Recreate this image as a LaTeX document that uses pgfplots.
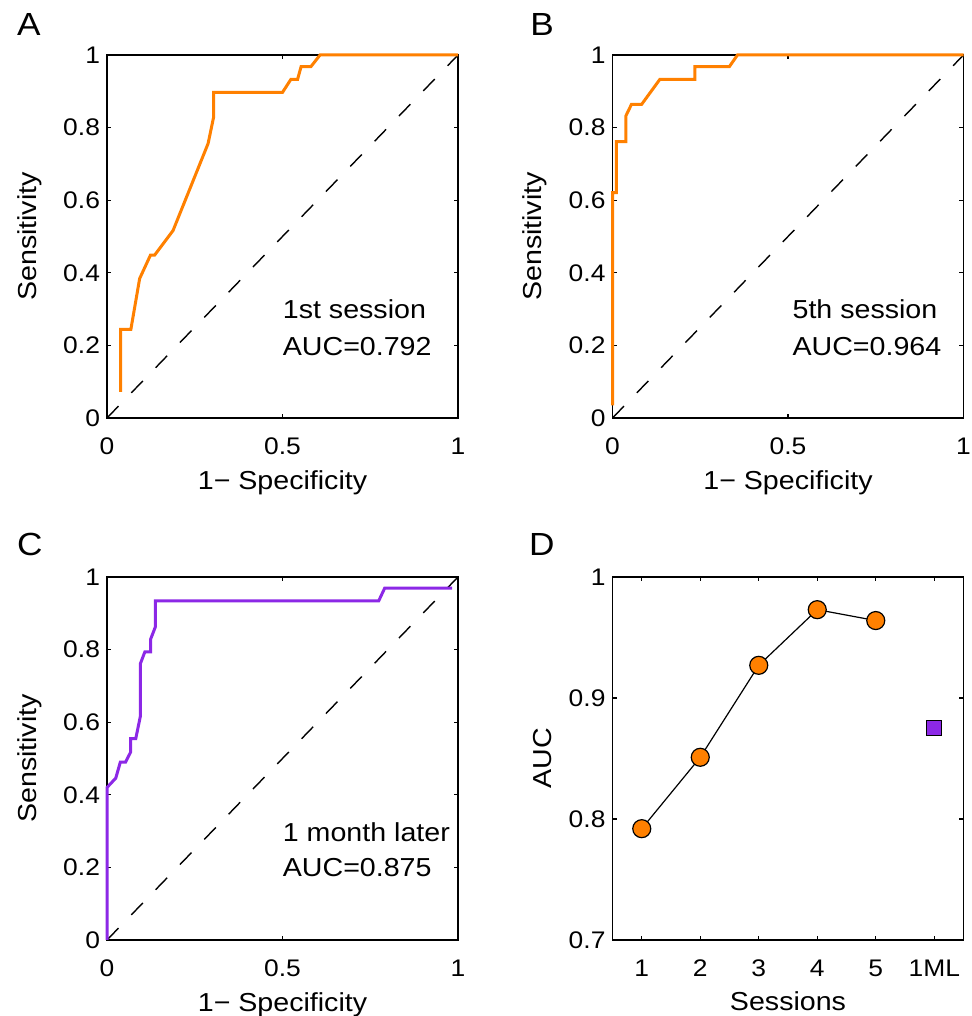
\documentclass[border=0pt]{standalone}
\usepackage{fontspec}
\setmainfont{Liberation Sans}[FakeStretch=1.1]
\usepackage{pgfplots}
\pgfplotsset{compat=1.18}
\definecolor{roco}{RGB}{255,128,0}
\definecolor{rocp}{RGB}{140,40,230}

\pgfplotsset{
  panel/.style={
    scale only axis, width=175.5pt, height=181.5pt, anchor=south west,
    clip=false,
    font=\fontsize{13}{15}\selectfont,
    /pgf/number format/assume math mode=true,
    tick label style={font=\fontsize{12}{14}\selectfont},
    xticklabel style={yshift=-6.5pt},
    tick align=inside, major tick length=2.2pt,
    axis line style={line width=0.6pt},
    every tick/.style={black, line width=0.6pt},
    xlabel style={at={(axis description cs:0.5,-0.196)}, anchor=base},
    ylabel style={anchor=base},
  },
  roc/.style={
    panel,
    xmin=0, xmax=1, ymin=0, ymax=1,
    xtick={0,0.5,1}, xticklabels={0,0.5,1},
    ytick={0,0.2,0.4,0.6,0.8,1}, yticklabels={0,0.2,0.4,0.6,0.8,1},
    xlabel={1− Specificity}, ylabel={Sensitivity},
    ylabel style={at={(axis description cs:-0.202,0.5)}},
  },
}
\tikzset{
  chance/.style={black, line width=0.7pt, dash pattern=on 8.25pt off 9.25pt},
  letter/.style={anchor=base west, inner sep=0pt, font=\fontsize{16}{18}\selectfont},
  note/.style={anchor=base west, inner sep=0pt},
}

\begin{document}
\begin{tikzpicture}
\useasboundingbox (0,0) rectangle (486pt,508pt);

% A: first session
\begin{axis}[roc, at={(53.5pt,299pt)}]
\addplot[chance] coordinates {(0,0) (1,1)};
\addplot[roco, line width=1.5pt] coordinates {
  (0.039,0.072) (0.039,0.244) (0.068,0.244) (0.093,0.384) (0.124,0.449)
  (0.136,0.449) (0.188,0.516) (0.288,0.756) (0.304,0.830) (0.304,0.897)
  (0.500,0.897) (0.524,0.933) (0.543,0.933) (0.553,0.968) (0.581,0.968)
  (0.607,1) (1,1)};
\node[note] at (axis cs:0.5,0.274) {1st session};
\node[note] at (axis cs:0.5,0.173) {AUC=0.792};
\node[letter] at (axis description cs:-0.257,1.055) {A};
\end{axis}

% B: fifth session
\begin{axis}[roc, at={(306.25pt,299pt)}]
\addplot[chance] coordinates {(0,0) (1,1)};
\addplot[roco, line width=1.5pt] coordinates {
  (0,0.035) (0,0.621) (0.011,0.621) (0.011,0.761) (0.038,0.761) (0.038,0.832)
  (0.054,0.864) (0.083,0.864) (0.135,0.933) (0.235,0.933) (0.235,0.968)
  (0.333,0.968) (0.356,1) (1,1)};
\node[note] at (axis cs:0.512,0.274) {5th session};
\node[note] at (axis cs:0.512,0.173) {AUC=0.964};
\node[letter] at (axis description cs:-0.235,1.055) {B};
\end{axis}

% C: one month later
\begin{axis}[roc, at={(53.5pt,38pt)}]
\addplot[chance] coordinates {(0,0) (1,1)};
\addplot[rocp, line width=1.5pt] coordinates {
  (0,0) (0,0.42) (0.025,0.446) (0.038,0.490) (0.053,0.490) (0.067,0.517)
  (0.067,0.555) (0.082,0.555) (0.095,0.616) (0.095,0.761) (0.108,0.794)
  (0.124,0.794) (0.124,0.828) (0.138,0.863) (0.138,0.934) (0.774,0.934)
  (0.791,0.969) (0.983,0.969)};
\node[note] at (axis cs:0.5,0.271) {1 month later};
\node[note] at (axis cs:0.5,0.175) {AUC=0.875};
\node[letter] at (axis description cs:-0.257,1.058) {C};
\end{axis}

% D: AUC per session
\begin{axis}[panel, at={(306.25pt,38pt)},
  xmin=0.5, xmax=6.5, ymin=0.7, ymax=1,
  xtick={1,2,3,4,5,6}, xticklabels={1,2,3,4,5,1ML},
  ytick={0.7,0.8,0.9,1}, yticklabels={0.7,0.8,0.9,1},
  xlabel={Sessions}, ylabel={AUC},
  xlabel style={at={(axis description cs:0.5,-0.193)}},
  ylabel style={at={(axis description cs:-0.173,0.5)}},
]
\addplot[black, line width=0.6pt, mark=*, mark size=4.5pt,
  mark options={fill=roco, draw=black, line width=0.6pt}]
  coordinates {(1,0.792) (2,0.851) (3,0.927) (4,0.973) (5,0.964)};
\addplot[only marks, mark=square*, mark size=3.8pt,
  mark options={fill=rocp, draw=black, line width=0.6pt}]
  coordinates {(6,0.875)};
\node[letter] at (axis description cs:-0.239,1.058) {D};
\end{axis}
\end{tikzpicture}
\end{document}
